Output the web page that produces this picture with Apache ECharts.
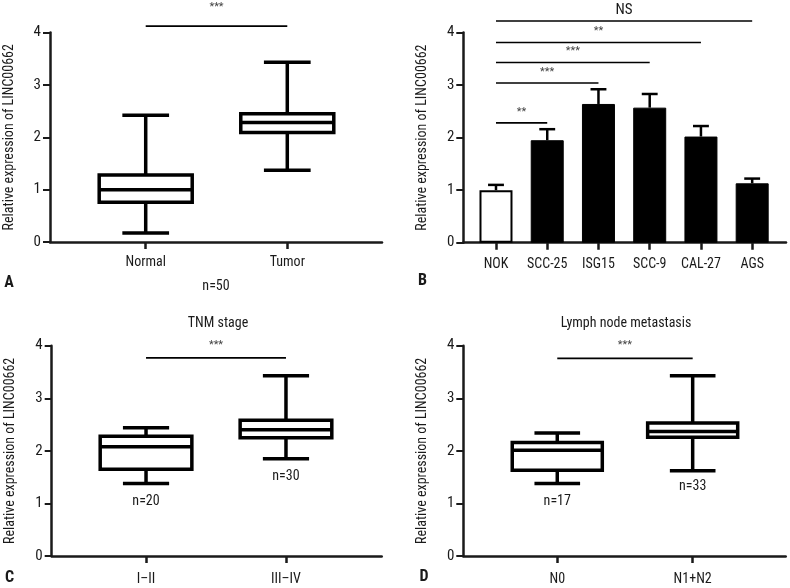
<!DOCTYPE html>
<html><head><meta charset="utf-8">
<script src="https://cdn.jsdelivr.net/npm/echarts@6/dist/echarts.min.js"></script>
<style>html,body{margin:0;padding:0;background:#fff}#c{width:790px;height:588px}</style>
</head><body><div id="c"></div>
<script>
// ---------- data ----------
const yTicks = [0, 1, 2, 3, 4];
// Panel A
const catsA = ['Normal', 'Tumor'];
const boxA = [[0.17, 0.76, 1.00, 1.28, 2.42], [1.37, 2.09, 2.28, 2.45, 3.43]];
const sigA = [[0, 1, 4.12, '***']];
// Panel B
const catsB = ['NOK', 'SCC-25', 'ISG15', 'SCC-9', 'CAL-27', 'AGS'];
const meanB = [1.00, 1.95, 2.64, 2.57, 2.02, 1.13];
const errB = [0.10, 0.21, 0.28, 0.26, 0.20, 0.09];
const sigB = [[0, 1, 2.28, '**'], [0, 2, 3.04, '***'], [0, 3, 3.43, '***'], [0, 4, 3.81, '**'], [0, 5, 4.22, 'NS']];
// Panel C
const catsC = ['I\u2013II', 'III\u2013IV'];
const boxC = [[1.38, 1.65, 2.08, 2.28, 2.44], [1.85, 2.25, 2.40, 2.58, 3.43]];
const nC = ['n=20', 'n=30'];
const nCy = [1.03, 1.51];
const sigC = [[0, 1, 3.77, '***']];
// Panel D
const catsD = ['N0', 'N1+N2'];
const boxD = [[1.38, 1.63, 2.01, 2.16, 2.34], [1.62, 2.26, 2.37, 2.53, 3.43]];
const nD = ['n=17', 'n=33'];
const nDy = [1.03, 1.32];
const sigD = [[0, 1, 3.76, '***']];

// ---------- style ----------
const FONT = "'Roboto Condensed','Liberation Sans Narrow','DejaVu Sans Condensed','Arial Narrow',sans-serif";
const INK = '#1a1a1a';
const YNAME = 'Relative expression of LINC00662';

function grid(left, top, width, height) {
  return { left, top, width, height, containLabel: false, outerBoundsMode: 'none' };
}
function xAxis(gi, cats, min, max, labelMargin, extra) {
  const idx = cats.map((_, i) => i);
  return Object.assign({
    type: 'value', gridIndex: gi, min, max,
    splitLine: { show: false },
    axisLine: { show: true, onZero: false, lineStyle: { color: INK, width: 2.5 } },
    axisTick: { show: true, customValues: idx, length: 7, lineStyle: { color: INK, width: 2.5 } },
    axisLabel: { show: true, customValues: idx, margin: labelMargin, color: INK, fontFamily: FONT, fontSize: 14,
      formatter: v => cats[Math.round(v)] }
  }, extra || {});
}
function yAxis(gi) {
  return {
    type: 'value', gridIndex: gi, min: yTicks[0], max: yTicks[yTicks.length - 1], interval: 1,
    splitLine: { show: false },
    axisLine: { show: true, onZero: false, lineStyle: { color: INK, width: 2.5 } },
    axisTick: { show: true, length: 7, lineStyle: { color: INK, width: 2 } },
    axisLabel: { margin: 9, color: INK, fontFamily: FONT, fontSize: 15, formatter: v => String(v) },
    name: YNAME, nameLocation: 'middle', nameGap: 34, nameRotate: 90,
    nameTextStyle: { color: INK, fontFamily: FONT, fontSize: 14 }
  };
}

function boxSeries(gi, boxes, boxW, capW) {
  return {
    type: 'custom', xAxisIndex: gi, yAxisIndex: gi, clip: false, silent: true,
    data: boxes.map((b, i) => [i].concat(b)),
    renderItem: function (params, api) {
      const i = api.value(0);
      const unit = api.size([1, 0])[0];
      const hb = boxW * unit / 2, hc = capW * unit / 2;
      const pMin = api.coord([i, api.value(1)]);
      const pQ1 = api.coord([i, api.value(2)]);
      const pMd = api.coord([i, api.value(3)]);
      const pQ3 = api.coord([i, api.value(4)]);
      const pMax = api.coord([i, api.value(5)]);
      const x = pMd[0];
      const st = { stroke: '#000', lineWidth: 3.5, fill: null };
      return {
        type: 'group', children: [
          { type: 'line', shape: { x1: x, y1: pQ3[1], x2: x, y2: pMax[1] }, style: st },
          { type: 'line', shape: { x1: x, y1: pQ1[1], x2: x, y2: pMin[1] }, style: st },
          { type: 'line', shape: { x1: x - hc, y1: pMax[1], x2: x + hc, y2: pMax[1] }, style: st },
          { type: 'line', shape: { x1: x - hc, y1: pMin[1], x2: x + hc, y2: pMin[1] }, style: st },
          { type: 'rect', shape: { x: x - hb, y: pQ3[1], width: 2 * hb, height: pQ1[1] - pQ3[1] },
            style: { stroke: '#000', lineWidth: 3.5, fill: '#fff' } },
          { type: 'line', shape: { x1: x - hb, y1: pMd[1], x2: x + hb, y2: pMd[1] }, style: st }
        ]
      };
    }
  };
}

function sigSeries(gi, sigs, textOffset, lw) {
  return {
    type: 'custom', xAxisIndex: gi, yAxisIndex: gi, clip: false, silent: true, z: 5,
    data: sigs.map(s => [s[0], s[1], s[2], s[3]]),
    renderItem: function (params, api) {
      const a = api.coord([api.value(0), api.value(2)]);
      const b = api.coord([api.value(1), api.value(2)]);
      const label = sigs[params.dataIndex][3];
      const isNS = label === 'NS';
      return {
        type: 'group', children: [
          { type: 'line', shape: { x1: a[0], y1: a[1], x2: b[0], y2: b[1] }, style: { stroke: '#000', lineWidth: lw } },
          { type: 'text', x: (a[0] + b[0]) / 2, y: a[1] - (isNS ? 11 : textOffset),
            style: { text: label, fill: isNS ? INK : '#444', font: (isNS ? '15px ' : '11px ') + FONT,
              align: 'center', verticalAlign: 'middle', textAlign: 'center', textVerticalAlign: 'middle' } }
        ]
      };
    }
  };
}

function nSeries(gi, labels, ys) {
  return {
    type: 'custom', xAxisIndex: gi, yAxisIndex: gi, clip: false, silent: true,
    data: labels.map((l, i) => [i, ys[i]]),
    renderItem: function (params, api) {
      const p = api.coord([api.value(0), api.value(1)]);
      return { type: 'text', x: p[0], y: p[1],
        style: { text: labels[params.dataIndex], fill: INK, font: '14px ' + FONT,
          align: 'center', verticalAlign: 'middle', textAlign: 'center', textVerticalAlign: 'middle' } };
    }
  };
}

function errSeries(gi, means, errs, capW) {
  return {
    type: 'custom', xAxisIndex: gi, yAxisIndex: gi, clip: false, silent: true, z: 3,
    data: means.map((m, i) => [i, m, m + errs[i]]),
    renderItem: function (params, api) {
      const unit = api.size([1, 0])[0];
      const hc = capW * unit / 2;
      const p0 = api.coord([api.value(0), api.value(1)]);
      const p1 = api.coord([api.value(0), api.value(2)]);
      const st = { stroke: '#000', lineWidth: 2.5 };
      return { type: 'group', children: [
        { type: 'line', shape: { x1: p0[0], y1: p0[1], x2: p1[0], y2: p1[1] }, style: st },
        { type: 'line', shape: { x1: p1[0] - hc, y1: p1[1], x2: p1[0] + hc, y2: p1[1] }, style: st }
      ] };
    }
  };
}

function txt(x, y, text, size, weight) {
  return { type: 'text', x, y, style: { text, fill: INK, font: (weight || 'normal') + ' ' + size + 'px ' + FONT,
    align: 'center', verticalAlign: 'middle', textAlign: 'center', textVerticalAlign: 'middle' } };
}

const chart = echarts.init(document.getElementById('c'), null, { renderer: 'canvas' });
chart.setOption({
  backgroundColor: '#fff',
  animation: false,
  grid: [
    grid(50, 32.5, 332, 209.5),
    grid(463.3, 32.5, 322.7, 210.2),
    grid(51.7, 345.7, 330, 210.3),
    grid(463.3, 345.7, 322.4, 210.3)
  ],
  xAxis: [
    xAxis(0, catsA, -0.676, 1.669, 13, { name: 'n=50', nameLocation: 'middle', nameGap: 37,
      nameTextStyle: { color: INK, fontFamily: FONT, fontSize: 14 } }),
    xAxis(1, catsB, -0.638, 5.66, 15),
    xAxis(2, catsC, -0.674, 1.684, 16),
    xAxis(3, catsD, -0.694, 1.687, 16)
  ],
  yAxis: [yAxis(0), yAxis(1), yAxis(2), yAxis(3)],
  series: [
    boxSeries(0, boxA, 0.657, 0.33),
    sigSeries(0, sigA, 19, 1.8),
    {
      type: 'bar', xAxisIndex: 1, yAxisIndex: 1, barWidth: 33, silent: true, z: 2,
      data: meanB.map((m, i) => ({ value: [i, m],
        itemStyle: i === 0 ? { color: '#fff', borderColor: '#000', borderWidth: 2 } : { color: '#000', borderColor: '#000', borderWidth: 1 } }))
    },
    errSeries(1, meanB, errB, 0.31),
    sigSeries(1, sigB, 11, 1.6),
    boxSeries(2, boxC, 0.655, 0.33),
    sigSeries(2, sigC, 12.7, 1.8),
    nSeries(2, nC, nCy),
    boxSeries(3, boxD, 0.665, 0.337),
    sigSeries(3, sigD, 12.7, 1.8),
    nSeries(3, nD, nDy)
  ],
  graphic: [
    txt(9, 283, 'A', 16, 'bold'),
    txt(422.5, 281, 'B', 16, 'bold'),
    txt(9.5, 578, 'C', 16, 'bold'),
    txt(424, 577, 'D', 16, 'bold'),
    txt(218, 323, 'TNM stage', 14),
    txt(626, 323, 'Lymph node metastasis', 14)
  ]
});
</script>
</body></html>
